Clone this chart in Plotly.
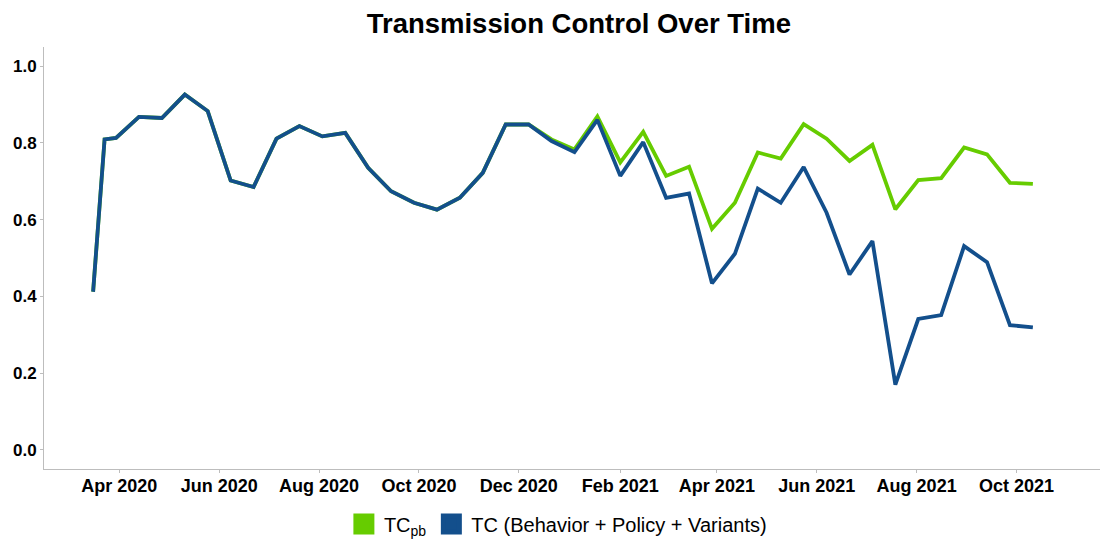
import plotly.graph_objects as go

dates = [
    "2020-03-16", "2020-03-23", "2020-03-30", "2020-04-13", "2020-04-27", "2020-05-11",
    "2020-05-25", "2020-06-08", "2020-06-22", "2020-07-06", "2020-07-20", "2020-08-03",
    "2020-08-17", "2020-08-31", "2020-09-14", "2020-09-28", "2020-10-12", "2020-10-26",
    "2020-11-09", "2020-11-23", "2020-12-07", "2020-12-21", "2021-01-04", "2021-01-18",
    "2021-02-01", "2021-02-15", "2021-03-01", "2021-03-15", "2021-03-29", "2021-04-12",
    "2021-04-26", "2021-05-10", "2021-05-24", "2021-06-07", "2021-06-21", "2021-07-05",
    "2021-07-19", "2021-08-02", "2021-08-16", "2021-08-30", "2021-09-13", "2021-09-27",
    "2021-10-11",
]

tc_full = [
    0.412, 0.809, 0.813, 0.868, 0.865, 0.926, 0.883, 0.702, 0.685, 0.811, 0.844, 0.817,
    0.826, 0.735, 0.674, 0.644, 0.626, 0.657, 0.722, 0.848, 0.848, 0.805, 0.776, 0.860,
    0.714, 0.802, 0.657, 0.668, 0.434, 0.511, 0.681, 0.644, 0.737, 0.618, 0.457, 0.544,
    0.170, 0.341, 0.351, 0.531, 0.489, 0.325, 0.319,
]

tc_pb = [
    0.412, 0.809, 0.813, 0.868, 0.865, 0.926, 0.883, 0.702, 0.685, 0.811, 0.844, 0.817,
    0.826, 0.735, 0.674, 0.644, 0.626, 0.657, 0.722, 0.848, 0.848, 0.809, 0.783, 0.869,
    0.749, 0.829, 0.714, 0.738, 0.576, 0.644, 0.775, 0.759, 0.849, 0.811, 0.753, 0.795,
    0.627, 0.703, 0.708, 0.788, 0.770, 0.696, 0.693,
]

names = ["TC<sub>pb</sub>", "TC (Behavior + Policy + Variants)"]
GREEN = "#66cc00"
BLUE = "#134f8c"
FONT = "Liberation Sans, Arial, sans-serif"

fig = go.Figure()
fig.add_trace(go.Scatter(x=dates, y=tc_pb, mode="lines", line=dict(color=GREEN, width=3.8),
                         showlegend=False, legendgroup="pb"))
fig.add_trace(go.Scatter(x=dates, y=tc_full, mode="lines", line=dict(color=BLUE, width=3.8),
                         showlegend=False, legendgroup="full"))
# legend keys as filled squares
fig.add_trace(go.Scatter(x=[None], y=[None], mode="markers", name=names[0], legendgroup="pb",
                         marker=dict(symbol="square", size=16, color=GREEN,
                                     line=dict(color=GREEN, width=5))))
fig.add_trace(go.Scatter(x=[None], y=[None], mode="markers", name=names[1], legendgroup="full",
                         marker=dict(symbol="square", size=16, color=BLUE,
                                     line=dict(color=BLUE, width=5))))

# page body adds an 8px offset, so the figure is 8px smaller than the window
fig.update_layout(
    width=1102, height=532,
    margin=dict(l=36, r=10, t=39, b=71, autoexpand=False),
    paper_bgcolor="white", plot_bgcolor="white",
    title=dict(text="Transmission Control Over Time", x=0.518, xanchor="center",
               xref="container", yref="container", y=0.972, yanchor="middle",
               font=dict(family=FONT, size=27.5, color="black", weight="bold")),
    legend=dict(orientation="h", x=0.499, xanchor="center", xref="container",
                yref="container", y=0.030, yanchor="middle",
                font=dict(family=FONT, size=20, color="black"),
                traceorder="normal", itemwidth=30),
    xaxis=dict(
        range=["2020-02-15", "2021-11-21"],
        tickmode="linear", tick0="2020-04-01", dtick="M2", tickformat="%b %Y",
        showgrid=False, zeroline=False, automargin=False,
        showline=True, linecolor="#bdbdbd", linewidth=1,
        ticks="outside", ticklen=3, tickcolor="#bdbdbd",
        ticklabelstandoff=-3,
        tickfont=dict(family=FONT, size=18, color="black", weight="bold"),
    ),
    yaxis=dict(
        range=[-0.05, 1.05],
        tickvals=[0.0, 0.2, 0.4, 0.6, 0.8, 1.0], tickformat=".1f",
        showgrid=False, zeroline=False, automargin=False,
        showline=True, linecolor="#bdbdbd", linewidth=1,
        ticks="outside", ticklen=3, tickcolor="#bdbdbd",
        tickfont=dict(family=FONT, size=17, color="black", weight="bold"),
    ),
)

fig.write_html("out.html")
